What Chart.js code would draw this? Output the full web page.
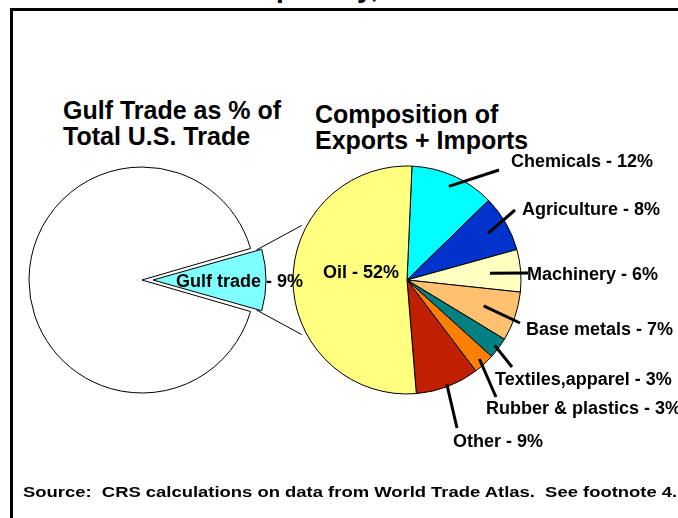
<!DOCTYPE html>
<html>
<head>
<meta charset="utf-8">
<script src="https://cdn.jsdelivr.net/npm/chart.js@4.4.1/dist/chart.umd.min.js"></script>
<style>
    body { margin: 0; background: #fff; font-family: 'Liberation Sans', Arial, sans-serif; }
    #stage { position: relative; width: 678px; height: 518px; overflow: hidden; background: #fff; }
    #frame { position: absolute; left: 10px; top: 8px; width: 720px; height: 560px; border: 3px solid #000; }
    canvas { position: absolute; left: 0; top: 0; }
    .txt { position: absolute; font-weight: bold; color: #000; white-space: nowrap; }
    .head { font-size: 25px; line-height: 26px; }
    .cut { font-size: 28px; line-height: 28px; top: -26px; }
    #source { left: 23px; top: 485px; font-size: 14px; line-height: 14px; transform: scaleX(1.316); transform-origin: 0 0; }
</style>
</head>
<body>
<div id="stage">
    <div id="frame"></div>
    <span class="txt cut" style="left:276px">p</span>
    <span class="txt cut" style="left:357px">y,</span>
    <div class="txt head" style="left:63px; top:97px">Gulf Trade as % of<br>Total U.S. Trade</div>
    <div class="txt head" style="left:315px; top:101px">Composition of<br>Exports + Imports</div>
    <canvas id="gulfChart" width="678" height="518"></canvas>
    <canvas id="compChart" width="678" height="518"></canvas>
    <div class="txt" id="source">Source:&nbsp; CRS calculations on data from World Trade Atlas.&nbsp; See footnote 4.</div>
</div>

<script>
// Data
const gulfLabels = ['Gulf trade', 'Other U.S. trade'];
const gulfShares = [9, 91];
const gulfColors = ['#80FFFF', '#FFFFFF'];

const compLabels = ['Chemicals', 'Agriculture', 'Machinery', 'Base metals',
    'Textiles,apparel', 'Rubber & plastics', 'Other', 'Oil'];
const compShares = [12, 8, 6, 7, 3, 3, 9, 52];
const compColors = ['#00FFFF', '#0033CC', '#FFFFC0', '#FFC070',
    '#008080', '#FF8000', '#C02000', '#FFFF80'];

// Label layout (offsets from the pie centre)
const leaderDepth = [0.9, 0.82, 0.73, 0.71, 0.96, 0.94, 0.98, null];
const leaderEnd = [[92, -110], [108, -70], [121, -7], [113, 43], [105, 87], [89, 117], [50, 148], null];
const labelAt = [[104, -113.5], [115, -65.5], [120, -0.5], [119, 54.5], [88, 104.5], [79, 133.5], [46, 166.5], [-84, -2.5]];
const gulfLabelAt = [34, 6.5];

const labelFont = "bold 18px 'Liberation Sans', Arial, sans-serif";

let gulfChart = null;
let compChart = null;

// Gulf wedge: keep its radius equal to the rest of the pie after the offset
const gulfPlugin = {
    id: 'gulfWedge',
    beforeDatasetsDraw(chart) {
        const meta = chart.getDatasetMeta(0);
        const g = meta.data[0];
        const shift = (g.options.offset || 0) / 4;
        const fix = 1 - Math.sin(Math.min(Math.PI, g.endAngle - g.startAngle));
        g.outerRadius = meta.controller.outerRadius - shift * fix;
    }
};

const compPlugin = {
    id: 'compLabels',
    afterDatasetsDraw(chart) {
        const ctx = chart.ctx;
        const arcs = chart.getDatasetMeta(0).data;
        ctx.save();
        ctx.strokeStyle = '#000';
        ctx.fillStyle = '#000';
        ctx.font = labelFont;
        ctx.textBaseline = 'alphabetic';

        // Connector lines from the Gulf wedge to this pie, and the wedge label
        if (gulfChart) {
            const g = gulfChart.getDatasetMeta(0).data[0];
            const shift = (g.options.offset || 0) / 4;
            const mid = (g.startAngle + g.endAngle) / 2;
            const gx = g.x + Math.cos(mid) * shift;
            const gy = g.y + Math.sin(mid) * shift;
            const c = arcs[0];
            const reach = c.outerRadius * 1.04;
            const spread = 27.4 * Math.PI / 180;
            [[g.startAngle, Math.PI + spread], [g.endAngle, Math.PI - spread]].forEach(([a, b]) => {
                ctx.beginPath();
                ctx.moveTo(gx + Math.cos(a) * g.outerRadius, gy + Math.sin(a) * g.outerRadius);
                ctx.lineTo(c.x + Math.cos(b) * reach, c.y + Math.sin(b) * reach);
                ctx.lineWidth = 1;
                ctx.stroke();
            });
            ctx.fillText(gulfLabels[0] + ' - ' + gulfShares[0] + '%', g.x + gulfLabelAt[0], g.y + gulfLabelAt[1]);
        }

        // Leader lines
        ctx.lineWidth = 3;
        arcs.forEach((arc, i) => {
            if (leaderDepth[i] === null) return;
            const mid = (arc.startAngle + arc.endAngle) / 2;
            const r = arc.outerRadius * leaderDepth[i];
            ctx.beginPath();
            ctx.moveTo(arc.x + Math.cos(mid) * r, arc.y + Math.sin(mid) * r);
            ctx.lineTo(arc.x + leaderEnd[i][0], arc.y + leaderEnd[i][1]);
            ctx.stroke();
        });

        // Slice labels
        arcs.forEach((arc, i) => {
            ctx.fillText(compLabels[i] + ' - ' + compShares[i] + '%', arc.x + labelAt[i][0], arc.y + labelAt[i][1]);
        });
        ctx.restore();
    }
};

function initCharts() {
    const gulfCtx = document.getElementById('gulfChart').getContext('2d');
    const compCtx = document.getElementById('compChart').getContext('2d');

    // Gulf trade as share of total U.S. trade
    gulfChart = new Chart(gulfCtx, {
        type: 'pie',
        data: {
            labels: gulfLabels,
            datasets: [{
                data: gulfShares,
                backgroundColor: gulfColors,
                borderColor: '#000',
                borderWidth: 1,
                offset: [44, 0]
            }]
        },
        options: {
            responsive: false,
            animation: false,
            events: [],
            radius: 113,
            rotation: 90 - gulfShares[0] * 1.8,
            layout: { padding: { left: 20, right: 414, top: 92, bottom: 50 } },
            plugins: { legend: { display: false }, tooltip: { enabled: false } }
        },
        plugins: [gulfPlugin]
    });

    // Composition of exports + imports
    compChart = new Chart(compCtx, {
        type: 'pie',
        data: {
            labels: compLabels,
            datasets: [{
                data: compShares,
                backgroundColor: compColors,
                borderColor: '#000',
                borderWidth: 1
            }]
        },
        options: {
            responsive: false,
            animation: false,
            events: [],
            radius: 114,
            rotation: 2.5,
            layout: { padding: { left: 186, right: 50, top: 92, bottom: 50 } },
            plugins: { legend: { display: false }, tooltip: { enabled: false } }
        },
        plugins: [compPlugin]
    });
}

document.addEventListener('DOMContentLoaded', initCharts);
</script>
</body>
</html>
